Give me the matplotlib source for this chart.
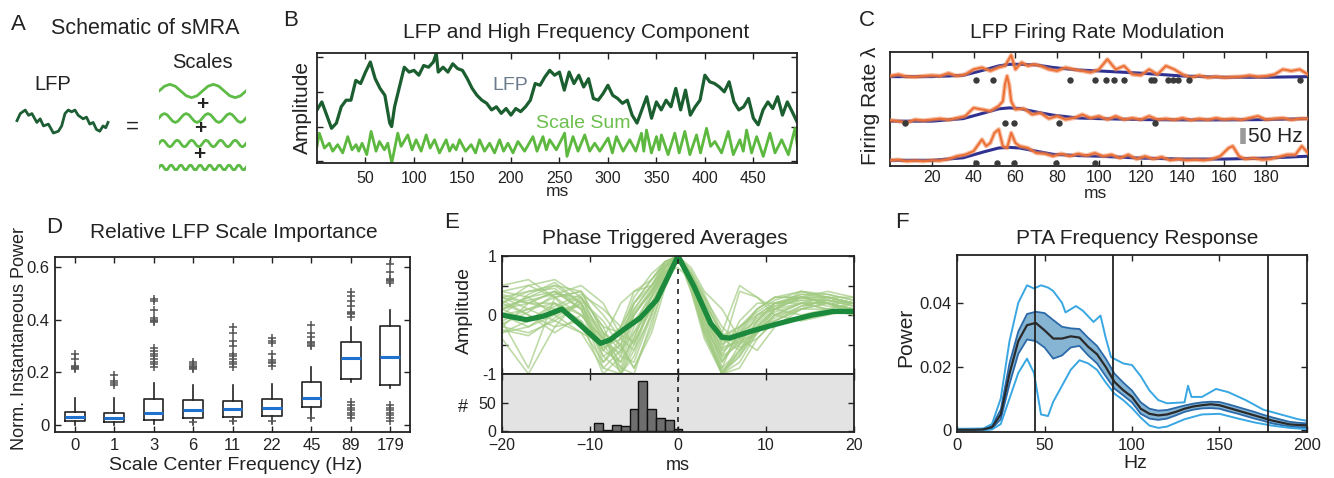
import numpy as np
import matplotlib
matplotlib.use('Agg')
import matplotlib.pyplot as plt

plt.rcParams['font.family'] = ['Liberation Sans', 'DejaVu Sans']

# ---------------- DATA ----------------
# Panel A (schematic)
A_LFP_T = [0, 1, 2.5, 3.5, 4.5, 6, 7, 8, 9.5, 11, 12.5, 13.5, 14.5, 15.5, 16.5, 17.5,
           18.5, 20, 21, 22, 23, 24, 25, 26, 26.8, 27.5]
A_LFP_V = [0, 0.67, 1.0, 0.5, 0.67, -0.17, 0.17, -0.5, -0.33, -1.17, -1.0, -0.5, 0.67, 1.0,
           0.83, 1.0, 0.5, 0.17, 0.33, -0.33, -0.17, -0.83, -1.0, -0.5, -0.67, -0.17]
A_CYCLE = [0, 0.71, 1, 0.71, 0, -0.71, -1, -0.71]
A_WAVE_CYCLES = [2, 4, 6, 9]

# Panel B
B_LFP_MS = [0, 5, 10, 15, 20, 25, 30, 35, 40, 45, 50, 55, 60, 65, 70, 75, 77, 80, 85, 90, 95,
            100, 105, 110, 115, 120, 123, 125, 130, 135, 140, 145, 150, 155, 160, 165, 170,
            175, 180, 185, 190, 195, 200, 205, 210, 215, 220, 225, 230, 235, 240, 245, 250,
            255, 260, 265, 270, 275, 280, 285, 290, 295, 300, 305, 310, 315, 320, 325, 330,
            335, 340, 345, 350, 355, 360, 365, 370, 375, 380, 385, 390, 395, 400, 405, 410,
            415, 420, 425, 430, 435, 440, 445, 450, 455, 460, 465, 470, 475, 480, 485, 490, 495]
B_LFP_AMP = [1.48, 1.71, 1.33, 0.95, 1.10, 1.57, 1.76, 1.76, 2.33, 2.24, 2.57, 2.86, 2.38, 2.10,
             1.90, 1.10, 1.00, 1.57, 2.14, 2.71, 2.57, 2.62, 2.48, 2.76, 2.71, 2.86, 3.11, 2.57,
             2.71, 2.57, 2.81, 2.67, 2.62, 2.38, 2.10, 1.90, 1.76, 1.67, 1.48, 1.57, 1.38, 1.52,
             1.33, 1.52, 1.43, 1.57, 1.76, 2.24, 2.19, 2.43, 2.62, 2.48, 2.57, 2.05, 2.57, 2.24,
             2.48, 2.14, 2.38, 1.81, 1.76, 1.95, 2.19, 1.90, 1.81, 1.67, 1.76, 1.33, 1.10, 1.48,
             1.86, 1.24, 1.71, 1.48, 1.76, 1.57, 2.10, 1.48, 2.05, 1.33, 1.57, 1.76, 2.48, 2.29,
             2.24, 2.14, 2.00, 2.29, 1.71, 1.48, 1.57, 1.81, 1.24, 1.05, 1.48, 1.71, 1.52, 1.86,
             1.33, 1.71, 1.43, 1.14]
B_SUM_MS = [0.0, 2.4, 7.6, 12.7, 16.2, 21.3, 26.5, 31.7, 36.1, 40.3, 43.0, 46.5, 51.3, 55.8,
            60.9, 64.4, 69.5, 73.0, 77.1, 83.3, 86.7, 93.6, 98.1, 102.2, 107.4, 112.6, 116.7,
            121.2, 126.3, 133.2, 136.7, 140.1, 143.5, 147.0, 153.2, 159.0, 163.5, 167.6, 172.8,
            178.0, 183.1, 188.3, 192.4, 196.9, 202.1, 207.2, 214.1, 222.7, 226.9, 233.0, 236.5,
            239.9, 246.8, 255.4, 257.8, 264.0, 269.2, 276.1, 281.2, 286.4, 291.6, 300.2, 304.6,
            308.8, 315.7, 322.5, 328.7, 334.6, 337.0, 339.8, 344.9, 350.1, 352.8, 355.2, 362.1,
            369.0, 373.5, 379.3, 384.5, 391.4, 395.5, 401.7, 405.9, 410.3, 417.2, 424.1, 429.3,
            436.1, 439.6, 443.0, 448.2, 453.4, 460.2, 467.1, 472.3, 479.2, 486.1, 492.9, 495.4]
B_SUM_AMP = [0.43, 0.81, 0.38, 0.52, 0.29, 0.48, 0.24, 0.71, 0.33, 0.48, 0.29, 0.52, 0.19, 0.86,
             0.29, 0.57, 0.33, 0.52, -0.05, 0.81, 0.43, 0.76, 0.33, 0.62, 0.29, 0.76, 0.38, 0.62,
             0.24, 0.62, 0.29, 0.48, 0.33, 0.62, 0.29, 0.48, 0.24, 0.62, 0.29, 0.52, 0.24, 0.62,
             0.29, 0.52, 0.24, 0.57, 0.29, 0.71, 0.29, 0.71, 0.33, 0.62, 0.33, 0.81, 0.14, 0.71,
             0.29, 0.76, 0.29, 0.52, 0.29, 0.67, 0.24, 0.71, 0.29, 0.62, 0.29, 0.81, 0.29, 0.90,
             0.24, 0.71, 0.33, 0.76, 0.19, 0.81, 0.24, 0.86, 0.19, 0.76, 0.24, 0.95, 0.43, 0.57,
             0.24, 0.86, 0.19, 0.62, 0.29, 0.90, 0.24, 0.71, 0.14, 0.81, 0.24, 0.62, 0.19, 0.95, 0.43]

# Panel C (rates in Hz; traces stacked with offsets)
C_OFFSETS = [265, 127, 0]
C_MODEL_MS = [0, 20, 35, 45, 52, 57, 62, 70, 78, 90, 100, 120, 140, 160, 180, 200]
C_MODEL_1 = [18, 18, 22, 39, 52, 57, 57, 55, 47, 39, 36, 29, 20, 16, 16, 18]
C_MODEL_2 = [15, 15, 23, 41, 54, 57, 55, 44, 34, 25, 23, 20, 19, 19, 20, 23]
C_MODEL_3 = [18, 18, 26, 45, 57, 59, 57, 47, 37, 33, 31, 25, 22, 22, 25, 31]
C_RATE_MS_1 = [0, 4, 8, 12, 16, 20, 24, 28, 32, 36, 40, 44, 48, 52, 55, 58, 60, 63, 66, 69, 72,
               76, 80, 84, 88, 92, 96, 100, 104, 108, 112, 116, 120, 124, 128, 132, 136, 140,
               144, 148, 152, 156, 160, 164, 168, 172, 176, 180, 184, 188, 192, 196, 200]
C_RATE_1 = [20, 25, 18, 17, 20, 22, 20, 29, 20, 25, 41, 47, 36, 47, 52, 86, 41, 63, 52, 57, 52,
            41, 36, 47, 41, 36, 31, 41, 73, 41, 52, 25, 22, 41, 25, 52, 41, 25, 15, 22, 15, 18,
            15, 17, 18, 22, 18, 20, 25, 41, 36, 41, 25]
C_RATE_MS_2 = [0, 4, 8, 12, 16, 20, 24, 28, 32, 36, 40, 44, 48, 52, 54, 55, 56, 57, 58, 60, 64,
               68, 72, 76, 80, 84, 88, 92, 96, 100, 104, 108, 112, 116, 120, 124, 128, 132, 136,
               140, 144, 148, 152, 156, 160, 164, 168, 172, 176, 180, 184, 188, 192, 196, 200]
C_RATE_2 = [18, 15, 10, 20, 17, 20, 23, 19, 25, 31, 57, 52, 47, 63, 78, 131, 158, 131, 78, 52,
            55, 36, 41, 23, 31, 20, 25, 36, 25, 31, 20, 31, 20, 25, 20, 31, 20, 23, 19, 25, 18,
            23, 19, 25, 20, 23, 19, 25, 31, 20, 23, 25, 19, 23, 23]
C_RATE_MS_3 = [0, 4, 8, 12, 16, 20, 24, 28, 32, 36, 40, 44, 46, 48, 50, 52, 54, 56, 58, 60, 62,
               66, 70, 74, 78, 82, 86, 90, 94, 98, 102, 106, 110, 114, 118, 122, 126, 130, 134,
               138, 142, 146, 150, 154, 158, 162, 164, 167, 170, 174, 178, 182, 186, 190, 194,
               197, 200]
C_RATE_3 = [18, 20, 15, 17, 15, 18, 17, 22, 31, 36, 47, 84, 63, 73, 105, 116, 63, 57, 105, 73,
            63, 57, 41, 39, 31, 39, 31, 39, 33, 41, 31, 36, 25, 36, 22, 31, 22, 29, 18, 22, 18,
            20, 18, 22, 31, 57, 63, 31, 22, 25, 20, 22, 29, 36, 36, 63, 41]
C_SPIKES_1 = [41.1, 49.1, 86.1, 98.1, 103.2, 107.2, 112.0, 124.8, 126.4, 132.8, 135.2, 137.6,
              143.2, 196.0]
C_SPIKES_2 = [7.2, 55.2, 59.2, 80.8, 126.9]
C_SPIKES_3 = [41.1, 51.2, 59.2, 79.2, 98.1]

# Panel D (box statistics per scale)
D_LABELS = ['0', '1', '3', '6', '11', '22', '45', '89', '179']
D_MED = [0.029, 0.025, 0.044, 0.054, 0.059, 0.062, 0.101, 0.253, 0.257]
D_Q1 = [0.013, 0.009, 0.019, 0.025, 0.029, 0.034, 0.067, 0.174, 0.149]
D_Q3 = [0.050, 0.044, 0.097, 0.095, 0.091, 0.099, 0.164, 0.314, 0.376]
D_WHISLO = [0.0, 0.0, 0.004, 0.004, 0.006, 0.008, 0.02, 0.161, 0.139]
D_WHISHI = [0.10, 0.10, 0.160, 0.152, 0.150, 0.155, 0.22, 0.373, 0.437]
D_FLIERS = [
    [0.21, 0.215, 0.22, 0.225, 0.25, 0.27],
    [0.152, 0.158, 0.165, 0.19],
    [0.22, 0.23, 0.24, 0.25, 0.26, 0.27, 0.28, 0.29, 0.39, 0.395, 0.40, 0.405, 0.437, 0.47, 0.48],
    [0.21, 0.215, 0.22, 0.225, 0.23, 0.24, 0.009],
    [0.22, 0.23, 0.24, 0.25, 0.26, 0.27, 0.30, 0.32, 0.35, 0.37, 0.013],
    [0.225, 0.235, 0.24, 0.245, 0.27, 0.31, 0.32, 0.33, 0.013],
    [0.30, 0.305, 0.31, 0.316, 0.335, 0.35, 0.38, 0.025],
    [0.411, 0.42, 0.425, 0.43, 0.45, 0.47, 0.49, 0.506, 0.025, 0.035, 0.045, 0.055, 0.065,
     0.075, 0.088],
    [0.54, 0.545, 0.55, 0.555, 0.58, 0.61, 0.013, 0.025, 0.035, 0.045, 0.055, 0.065, 0.073],
]

# Panel E
E_GRID = [-20, -17, -14, -11, -8.5, -6.5, -5, -3, -1.5, 0, 1.5, 3, 5, 7, 9, 11, 14, 17, 20]
E_TRACES = [
    [0.3, 0.4, 0.5, 0.2, -0.6, -0.8, -0.2, 0.4, 0.8, 1.0, 0.6, 0.0, -0.9, -0.6, -0.2, 0.1, 0.3, 0.3, 0.2],
    [-0.1, -0.9, 0.3, 0.4, -0.3, -0.6, -0.3, 0.3, 0.7, 1.0, 0.5, -0.3, -1.0, -0.5, 0.0, 0.2, 0.3, 0.2, 0.1],
    [0.1, 0.2, 0.4, 0.1, -0.9, -1.0, -0.5, 0.2, 0.6, 1.0, 0.7, 0.2, -0.5, -0.3, 0.1, 0.3, 0.3, 0.2, 0.1],
    [0.4, 0.3, 0.0, -0.3, -0.5, -0.2, 0.2, 0.6, 0.9, 1.0, 0.6, 0.0, -0.6, 0.4, 0.3, 0.0, -0.1, 0.0, 0.1],
    [-0.3, -0.2, 0.1, 0.3, -0.2, -0.9, -1.0, -0.1, 0.5, 0.95, 0.7, 0.3, -0.2, -0.5, -0.3, 0.0, 0.2, 0.1, 0.0],
    [0.2, 0.5, 0.6, 0.3, -0.4, 0.2, 0.4, 0.5, 0.8, 1.0, 0.4, -0.4, -1.0, -0.7, -0.3, 0.1, 0.4, 0.3, 0.2],
    [-0.2, -0.3, -0.1, 0.2, -0.7, -0.5, 0.1, 0.5, 0.9, 1.0, 0.5, -0.1, -0.8, -0.4, -0.2, -0.1, 0.1, 0.2, 0.1],
    [0.0, 0.1, 0.3, 0.4, 0.0, -0.4, -0.6, 0.0, 0.6, 1.0, 0.8, 0.4, 0.1, -0.4, -0.6, -0.2, 0.1, 0.3, 0.2],
    [0.3, 0.2, 0.2, -0.1, -1.0, -0.7, -0.1, 0.3, 0.7, 1.0, 0.5, -0.2, -0.9, -0.2, 0.1, 0.3, 0.4, 0.3, 0.3],
    [-0.4, -1.0, -0.2, 0.3, -0.2, -0.3, 0.0, 0.4, 0.8, 1.0, 0.6, 0.1, -0.4, -0.2, 0.0, 0.1, 0.2, 0.2, 0.0],
    [0.1, 0.3, 0.5, 0.4, -0.3, -1.0, -0.6, 0.2, 0.7, 1.0, 0.7, 0.2, -0.3, 0.5, 0.3, 0.1, 0.0, 0.1, 0.1],
    [0.2, 0.0, -0.3, 0.0, -0.5, -0.3, 0.3, 0.7, 0.9, 1.0, 0.4, -0.3, -1.0, -0.8, -0.3, 0.0, 0.2, 0.3, 0.2],
    [-0.1, 0.1, 0.2, -0.2, -0.8, -0.4, 0.2, 0.5, 0.75, 0.8, 0.6, 0.1, -0.5, -0.3, -0.1, 0.2, 0.3, 0.2, 0.1],
    [0.4, 0.5, 0.3, 0.0, -0.4, -0.8, -0.4, 0.3, 0.8, 1.0, 0.5, -0.2, -0.7, -0.5, -0.1, 0.2, 0.2, 0.1, 0.2],
    [0.0, -0.2, 0.0, 0.2, -0.3, -0.5, -0.9, -0.2, 0.6, 1.0, 0.6, 0.1, -0.6, -0.4, -0.2, 0.1, 0.3, 0.4, 0.3],
    [-0.2, 0.2, 0.4, 0.1, -0.6, -0.2, 0.4, 0.6, 0.85, 1.0, 0.5, -0.1, -1.0, -0.9, -0.4, -0.1, 0.1, 0.1, 0.0],
    [0.3, 0.1, -0.1, -0.3, -0.9, -0.6, 0.0, 0.4, 0.7, 0.9, 0.6, 0.0, -0.7, -0.1, 0.2, 0.2, 0.3, 0.3, 0.2],
    [0.1, 0.3, 0.4, 0.2, -0.5, -0.9, -0.3, 0.1, 0.65, 1.0, 0.7, 0.3, -0.4, -0.6, -0.3, 0.0, 0.1, 0.2, 0.2],
    [0.5, 0.6, 0.3, -0.2, -0.6, -0.3, 0.1, 0.5, 0.85, 1.0, 0.6, -0.1, -0.8, -0.3, 0.0, 0.2, 0.35, 0.3, 0.2],
    [-0.3, -0.1, 0.2, 0.0, -0.4, -0.7, -0.8, 0.0, 0.6, 1.0, 0.55, -0.2, -1.0, -0.6, -0.1, 0.2, 0.25, 0.15, 0.1],
    [0.2, 0.4, 0.45, 0.1, -0.7, -0.95, -0.4, 0.35, 0.8, 1.0, 0.65, 0.05, -0.75, -0.45, -0.15, 0.15, 0.35, 0.35, 0.25],
    [0.1, -0.1, 0.15, 0.35, 0.1, -0.2, -0.5, 0.15, 0.7, 1.0, 0.75, 0.35, -0.3, -0.55, -0.4, -0.1, 0.15, 0.25, 0.15],
    [-0.15, 0.05, 0.35, 0.3, -0.45, -0.65, 0.0, 0.45, 0.85, 1.0, 0.45, -0.35, -0.95, -0.65, -0.25, 0.05, 0.2, 0.2, 0.1],
    [0.35, 0.2, 0.1, 0.15, -0.35, -1.0, -0.7, 0.05, 0.55, 0.9, 0.7, 0.25, -0.35, -0.2, 0.05, 0.25, 0.4, 0.35, 0.25],
    [0.0, 0.35, 0.55, 0.2, -0.8, -0.5, 0.05, 0.4, 0.75, 1.0, 0.55, -0.05, -0.65, -0.35, -0.05, 0.15, 0.25, 0.25, 0.15],
    [0.25, 0.0, -0.2, -0.1, -0.55, -0.4, 0.2, 0.6, 0.9, 1.0, 0.5, -0.25, -0.95, -0.7, -0.2, 0.1, 0.3, 0.25, 0.2],
    [-0.25, -0.35, -0.05, 0.25, -0.1, -0.55, -0.9, -0.3, 0.45, 0.95, 0.65, 0.15, -0.45, -0.25, 0.1, 0.3, 0.3, 0.2, 0.05],
    [0.15, 0.25, 0.35, 0.5, 0.2, -0.35, -0.45, 0.1, 0.6, 1.0, 0.6, 0.0, -0.55, -0.45, -0.3, -0.05, 0.15, 0.25, 0.2],
]
E_MEAN_MS = [-20, -17.2, -15.3, -13.2, -11.1, -8.8, -7.7, -6.2, -4.3, -2.4, 0, 1.8, 3.7, 5.0,
             5.9, 8.2, 10.8, 13.1, 15.3, 17.6, 20]
E_MEAN = [0.0, -0.08, -0.02, 0.10, -0.17, -0.48, -0.42, -0.25, -0.05, 0.26, 1.0, 0.49, -0.14,
          -0.38, -0.39, -0.28, -0.17, -0.08, 0.0, 0.06, 0.06]
E_HIST_MS = [-9, -8, -7, -6, -5, -4, -3, -2, -1, 0]
E_HIST_N = [14, 1, 11, 8, 39, 91, 39, 24, 20, 3]

# Panel F
F_HZ = list(range(0, 201, 5))
F_MEAN = [0.0002, 0.0002, 0.0002, 0.0003, 0.001, 0.005, 0.0178, 0.028, 0.033, 0.0337, 0.0314,
          0.0288, 0.0288, 0.0295, 0.0291, 0.0262, 0.0239, 0.0199, 0.0152, 0.0126, 0.0105,
          0.0068, 0.0052, 0.0047, 0.005, 0.0058, 0.0068, 0.0075, 0.0079, 0.0082, 0.0079,
          0.0071, 0.0063, 0.0055, 0.0047, 0.0039, 0.0031, 0.0025, 0.0019, 0.0017, 0.0016]
F_SE_HI = [0.0004, 0.0004, 0.0004, 0.0005, 0.0015, 0.0065, 0.021, 0.031, 0.0365, 0.0372, 0.0368,
           0.0346, 0.0325, 0.032, 0.0318, 0.029, 0.0265, 0.0225, 0.0178, 0.015, 0.0125, 0.0088,
           0.0068, 0.0062, 0.0064, 0.0071, 0.0078, 0.0084, 0.0088, 0.009, 0.0089, 0.0082,
           0.0074, 0.0066, 0.0058, 0.0049, 0.0041, 0.0034, 0.0027, 0.0024, 0.0022]
F_SE_LO = [0.0, 0.0, 0.0, 0.0001, 0.0006, 0.0035, 0.0145, 0.024, 0.0285, 0.028, 0.026, 0.0225,
           0.0235, 0.026, 0.0265, 0.0235, 0.021, 0.017, 0.0131, 0.011, 0.0088, 0.0052, 0.0037,
           0.0033, 0.0037, 0.0047, 0.0058, 0.0065, 0.0069, 0.007, 0.0068, 0.006, 0.0053,
           0.0045, 0.0037, 0.003, 0.0022, 0.0017, 0.0012, 0.001, 0.0009]
F_MAX_HZ = [0, 15, 20, 25, 30, 35, 40, 44, 48, 52, 55, 60, 62, 65, 68, 72, 78, 82, 85, 88, 95,
            100, 105, 110, 115, 120, 130, 132, 134, 140, 148, 155, 165, 175, 185, 195, 200]
F_MAX = [0.0005, 0.0006, 0.002, 0.01, 0.028, 0.04, 0.0455, 0.0445, 0.0455, 0.0448, 0.0437,
         0.040, 0.037, 0.038, 0.039, 0.0375, 0.034, 0.036, 0.029, 0.023, 0.021, 0.0205, 0.017,
         0.0125, 0.0095, 0.0085, 0.0088, 0.014, 0.0105, 0.0105, 0.013, 0.012, 0.0095, 0.0065,
         0.005, 0.0035, 0.003]
F_MIN_HZ = [0, 15, 20, 25, 30, 35, 40, 44, 48, 52, 55, 60, 65, 70, 75, 80, 85, 90, 95, 100, 105,
            110, 115, 120, 130, 140, 150, 160, 170, 180, 190, 200]
F_MIN = [0.0, 0.0, 0.0003, 0.002, 0.01, 0.018, 0.0225, 0.018, 0.005, 0.0045, 0.009, 0.014,
         0.019, 0.022, 0.021, 0.019, 0.015, 0.0115, 0.0095, 0.007, 0.004, 0.0015, 0.0008,
         0.0012, 0.0035, 0.005, 0.0052, 0.0038, 0.0025, 0.0015, 0.0008, 0.0004]
F_SCALE_LINES = [44.5, 89, 178]

# ---------------- FIGURE ----------------
W, H = 1334, 478
fig = plt.figure(figsize=(W / 100, H / 100), dpi=100)
fig.patch.set_facecolor('white')
INK = '#222222'


def axpx(l, t, r, b):
    return fig.add_axes([l / W, 1 - b / H, (r - l) / W, (b - t) / H])


def ftext(x, y, s, **kw):
    kw.setdefault('ha', 'center')
    kw.setdefault('va', 'center')
    kw.setdefault('color', INK)
    fig.text(x / W, 1 - y / H, s, **kw)


def mstyle(ax, labelsize=11.5, pad=4):
    ax.tick_params(direction='in', top=True, right=True, length=4, width=1,
                   labelsize=labelsize, colors=INK, pad=pad)
    for sp in ax.spines.values():
        sp.set_linewidth(1.3)
        sp.set_color(INK)


# ---- Panel A ----
ftext(18, 25, 'A', fontsize=16)
ftext(145, 28, 'Schematic of sMRA', fontsize=15.5)
ftext(53, 85, 'LFP', fontsize=14.5)
ftext(202, 62, 'Scales', fontsize=14.5)
ftext(132, 127, '=', fontsize=16)
for (px, py) in [(202, 105), (200, 129), (199, 154)]:
    ftext(px, py, '+', fontsize=15, fontweight='bold')
axA = axpx(15, 104, 110, 136)
axA.plot(A_LFP_T, A_LFP_V, color='#1d5e35', lw=2)
axA.set_xlim(-0.6, 28.1)
axA.set_ylim(-1.45, 1.57)
axA.axis('off')
wave_boxes = [(82, 100), (112, 124), (139, 148), (164, 171)]
for ncyc, (t, b) in zip(A_WAVE_CYCLES, wave_boxes):
    ax = axpx(159, t, 246, b)
    y = list(np.tile(A_CYCLE, ncyc)) + [0]
    ax.plot(np.arange(len(y)), y, color='#5dbb46', lw=2)
    ax.set_xlim(0, len(y) - 1)
    ax.set_ylim(-1.35, 1.35)
    ax.axis('off')

# ---- Panel B ----
ftext(291, 20, 'B', fontsize=16)
ftext(576, 32, 'LFP and High Frequency Component', fontsize=15)
axB = axpx(317, 53, 797, 163)
axB.plot(B_LFP_MS, B_LFP_AMP, color='#1b5e30', lw=2.3)
axB.plot(B_SUM_MS, B_SUM_AMP, color='#5cb83f', lw=2.0)
axB.set_xlim(0, 495)
axB.set_ylim(-0.05, 3.12)
axB.set_yticks([0, 1, 2, 3])
axB.set_yticklabels([])
axB.set_xticks(range(50, 451, 50))
mstyle(axB, pad=6)
axB.text(199, 2.19, 'LFP', color='#6b7b8c', fontsize=14, ha='center', va='center')
axB.text(275, 1.10, 'Scale Sum', color='#6cbf4e', fontsize=14, ha='center', va='center')
ftext(302, 108, 'Amplitude', fontsize=15, rotation=90)
ftext(557, 192, 'ms', fontsize=12.5)

# ---- Panel C ----
ftext(867, 21, 'C', fontsize=16)
ftext(1097, 33, 'LFP Firing Rate Modulation', fontsize=15)
axC = axpx(890, 52, 1308, 166)
models = [C_MODEL_1, C_MODEL_2, C_MODEL_3]
rates = [(C_RATE_MS_1, C_RATE_1), (C_RATE_MS_2, C_RATE_2), (C_RATE_MS_3, C_RATE_3)]
spikes = [C_SPIKES_1, C_SPIKES_2, C_SPIKES_3]
for off, mod, (rx, ry), sp in zip(C_OFFSETS, models, rates, spikes):
    axC.plot(C_MODEL_MS, np.array(mod) + off, color='#2e3192', lw=2.2, zorder=2)
    axC.plot(rx, np.array(ry) + off, color='#f08a55', lw=3.2, alpha=0.55, zorder=3,
             solid_joinstyle='round')
    axC.plot(rx, np.array(ry) + off, color='#ec6f35', lw=1.4, zorder=4)
    axC.plot(sp, np.full(len(sp), off + 8.0), 'o', color='#3a3a3a', ms=3.6, zorder=5)
axC.plot([169, 169], [69, 119], color='#9a9a9a', lw=4, solid_capstyle='butt')
axC.text(171.5, 94, '50 Hz', fontsize=15, va='center', ha='left', color=INK)
axC.set_xlim(0, 200)
axC.set_ylim(0, 361)
axC.set_xticks(range(20, 181, 20))
axC.set_yticks([])
mstyle(axC, pad=3)
ftext(870, 106, 'Firing Rate λ', fontsize=15, rotation=90)
ftext(1095, 193, 'ms', fontsize=12.5)

# ---- Panel D ----
ftext(54, 227, 'D', fontsize=16)
ftext(234, 233, 'Relative LFP Scale Importance', fontsize=15)
axD = axpx(55, 257, 410, 432)
stats = []
for i in range(len(D_LABELS)):
    stats.append(dict(med=D_MED[i], q1=D_Q1[i], q3=D_Q3[i], whislo=D_WHISLO[i],
                      whishi=D_WHISHI[i], fliers=D_FLIERS[i], label=D_LABELS[i]))
axD.bxp(stats, positions=range(len(D_LABELS)), widths=0.5, showcaps=False,
        boxprops=dict(color=INK, lw=1.2),
        whiskerprops=dict(color=INK, lw=1.2),
        medianprops=dict(color='#1f72cf', lw=2.2),
        flierprops=dict(marker='+', markeredgecolor='#555555', markersize=6, mew=1.1))
axD.set_xlim(-0.5, 8.5)
axD.set_ylim(-0.028, 0.638)
axD.set_yticks([0, 0.2, 0.4, 0.6])
axD.set_yticklabels(['0', '0.2', '0.4', '0.6'])
axD.set_xticks(range(len(D_LABELS)))
axD.set_xticklabels(D_LABELS)
mstyle(axD, labelsize=12)
ftext(20, 339, 'Norm. Instantaneous Power', fontsize=13, rotation=90)
ftext(236, 465, 'Scale Center Frequency (Hz)', fontsize=14)

# ---- Panel E ----
ftext(452, 223, 'E', fontsize=16)
ftext(665, 238, 'Phase Triggered Averages', fontsize=15)
axE = axpx(502, 256, 854, 374)
for tr in E_TRACES:
    axE.plot(E_GRID, tr, color='#a2cb82', lw=1.2, alpha=0.7)
axE.plot(E_MEAN_MS, E_MEAN, color='#1b8a3c', lw=3.8)
axE.axvline(0, color=INK, ls='--', lw=1.2, dashes=(3, 3))
axE.set_xlim(-20, 20)
axE.set_ylim(-1, 1)
axE.set_yticks([-1, -0.5, 0, 0.5, 1])
axE.set_yticklabels(['-1', '', '0', '', '1'])
axE.set_xticks([-20, -10, 0, 10, 20])
axE.set_xticklabels([])
mstyle(axE, labelsize=11.5)
axEh = axpx(502, 374, 854, 432)
axEh.set_facecolor('#e3e3e3')
axEh.bar(E_HIST_MS, E_HIST_N, width=1.0, color='#6e6e6e', edgecolor='#111111', lw=1)
axEh.axvline(0, color=INK, ls='--', lw=1.2, dashes=(3, 3))
axEh.set_xlim(-20, 20)
axEh.set_ylim(-2, 103)
axEh.set_yticks([0, 50])
axEh.set_xticks([-20, -10, 0, 10, 20])
mstyle(axEh, labelsize=11.5)
ftext(464, 311, 'Amplitude', fontsize=14, rotation=90)
ftext(463, 407, '#', fontsize=13)
ftext(678, 465, 'ms', fontsize=13)

# ---- Panel F ----
ftext(902, 223, 'F', fontsize=16)
ftext(1137, 238, 'PTA Frequency Response', fontsize=15)
axF = axpx(957, 255, 1307, 432)
axF.fill_between(F_HZ, F_SE_LO, F_SE_HI, facecolor='#5e9cc6', alpha=0.75, edgecolor='none')
axF.plot(F_HZ, F_SE_HI, color='#2b69a8', lw=1.3)
axF.plot(F_HZ, F_SE_LO, color='#2b69a8', lw=1.3)
axF.plot(F_MAX_HZ, F_MAX, color='#39a7e2', lw=1.4)
axF.plot(F_MIN_HZ, F_MIN, color='#39a7e2', lw=1.4)
axF.plot(F_HZ, F_MEAN, color='#2a2a2a', lw=1.6)
for xv in F_SCALE_LINES:
    axF.axvline(xv, color=INK, lw=1.3)
axF.set_xlim(0, 200)
axF.set_ylim(-0.0005, 0.055)
axF.set_yticks([0, 0.02, 0.04])
axF.set_yticklabels(['0', '0.02', '0.04'])
axF.set_xticks(range(0, 201, 50))
mstyle(axF, labelsize=12)
ftext(906, 337, 'Power', fontsize=15, rotation=90)
ftext(1135, 463, 'Hz', fontsize=14)

fig.savefig('out.png', dpi=100, facecolor='white')
